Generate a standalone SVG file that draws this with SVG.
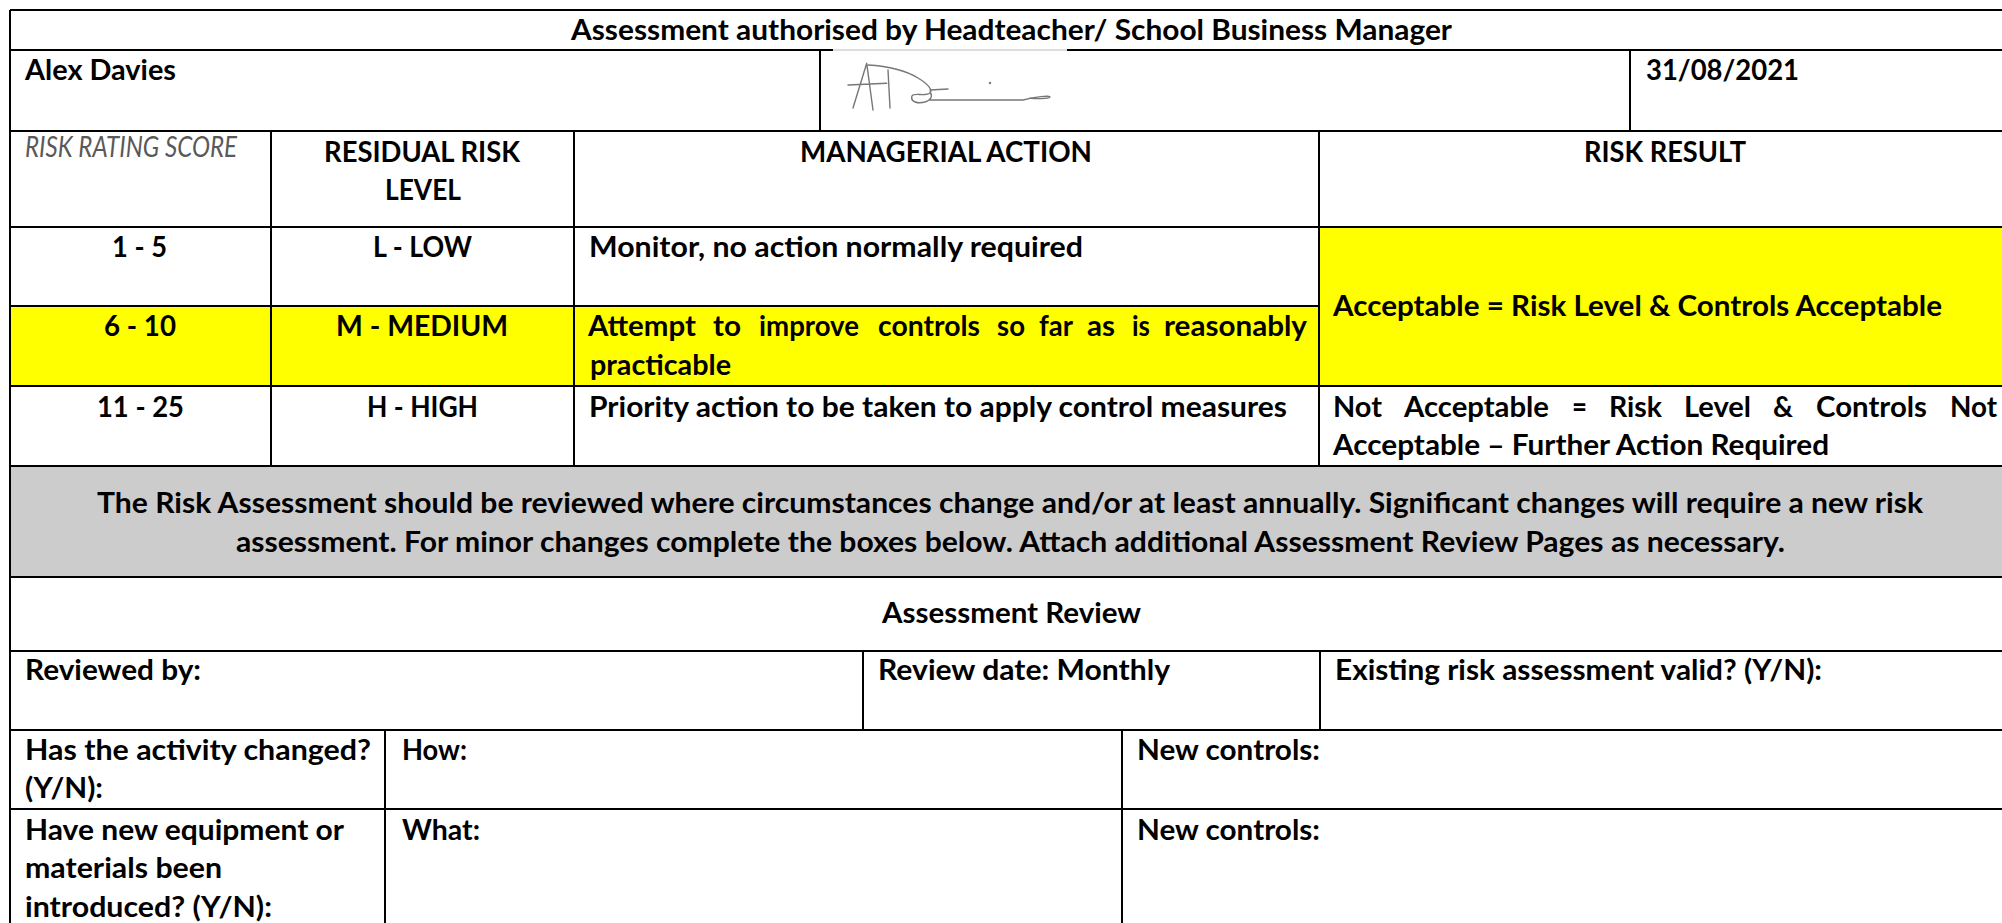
<svg xmlns="http://www.w3.org/2000/svg" width="2002" height="923" viewBox="0 0 2002 923">
<style>
.t{font-family:Lato,"Liberation Sans",sans-serif;font-weight:bold;font-size:28px;fill:#000}
.it{font-family:Lato,"Liberation Sans",sans-serif;font-style:italic;font-weight:normal;font-size:28px;fill:#595959}
.ln{stroke:#000;stroke-width:2;fill:none}
.sig{stroke:#777;stroke-width:1.4;fill:none;stroke-linecap:round;stroke-linejoin:round}
</style>
<rect x="0" y="0" width="2002" height="923" fill="#fff"/>
<g id="fills">
<rect x="10" y="306" width="1309" height="80" fill="#ffff00"/>
<rect x="1319" y="227" width="683" height="159" fill="#ffff00"/>
<rect x="10" y="466" width="1992" height="111" fill="#cccccc"/>
</g>
<g id="grid">
<path class="ln" d="M10 10H2002M10 10V923"/>
<path class="ln" d="M10 50H833M1067 50H2002"/>
<path d="M833 50H1067" stroke="#bbb" stroke-width="1"/>
<path class="ln" d="M10 131H2002M10 227H2002M10 306H1319M10 386H2002M10 466H2002M10 577H2002M10 651H2002M10 730H2002M10 809H2002"/>
<path class="ln" d="M820 50V131M1630 50V131"/>
<path class="ln" d="M271 131V466M574 131V466M1319 131V466"/>
<path class="ln" d="M863 651V730M1320 651V730"/>
<path class="ln" d="M385 730V923M1122 730V923"/>
</g>
<g id="title"><text class="t" x="571" y="40" textLength="881" lengthAdjust="spacingAndGlyphs">Assessment authorised by Headteacher/ School Business Manager</text></g>
<g id="name"><text class="t" x="25" y="80" textLength="151" lengthAdjust="spacingAndGlyphs">Alex Davies</text></g>
<g id="signature">
<path class="sig" d="M853 108L866.7 63.3L873 110M848 85L886.7 83.3M888 70L890 108"/>
<path class="sig" d="M868 65C885 66 905 70 918 78C928 84 933 90 930 93C925 97 914 92 912 96C910 102 918 104 925 102C931 100 933 96 930 92M930 90L948 89M930 100L1023 100C1035 97 1050 95 1050 97C1049 99 1035 99 1030 98"/>
<circle cx="990" cy="83" r="1.2" fill="#777"/>
</g>
<g id="date"><text class="t" x="1646" y="80" textLength="153" lengthAdjust="spacingAndGlyphs">31/08/2021</text></g>
<g id="hdr-score"><text class="it" x="25" y="157" textLength="212" lengthAdjust="spacingAndGlyphs">RISK RATING SCORE</text></g>
<g id="hdr-level"><text class="t" x="324" y="162" textLength="196" lengthAdjust="spacingAndGlyphs">RESIDUAL RISK</text><text class="t" x="385" y="200" textLength="76" lengthAdjust="spacingAndGlyphs">LEVEL</text></g>
<g id="hdr-action"><text class="t" x="800" y="162" textLength="292" lengthAdjust="spacingAndGlyphs">MANAGERIAL ACTION</text></g>
<g id="hdr-result"><text class="t" x="1584" y="162" textLength="162" lengthAdjust="spacingAndGlyphs">RISK RESULT</text></g>
<g id="row-low">
<text class="t" x="112" y="257" textLength="55" lengthAdjust="spacingAndGlyphs">1 - 5</text>
<text class="t" x="373" y="257" textLength="99" lengthAdjust="spacingAndGlyphs">L - LOW</text>
<text class="t" x="589" y="257" textLength="494" lengthAdjust="spacingAndGlyphs">Monitor, no action normally required</text>
</g>
<g id="result-acceptable"><text class="t" x="1333" y="316" textLength="609" lengthAdjust="spacingAndGlyphs">Acceptable = Risk Level &amp; Controls Acceptable</text></g>
<g id="row-medium">
<text class="t" x="104" y="336" textLength="72" lengthAdjust="spacingAndGlyphs">6 - 10</text>
<text class="t" x="336" y="336" textLength="172" lengthAdjust="spacingAndGlyphs">M - MEDIUM</text>
<text class="t" x="588" y="336" textLength="108" lengthAdjust="spacingAndGlyphs">Attempt</text>
<text class="t" x="713" y="336" textLength="28" lengthAdjust="spacingAndGlyphs">to</text>
<text class="t" x="759" y="336" textLength="100" lengthAdjust="spacingAndGlyphs">improve</text>
<text class="t" x="878" y="336" textLength="102" lengthAdjust="spacingAndGlyphs">controls</text>
<text class="t" x="997" y="336" textLength="28" lengthAdjust="spacingAndGlyphs">so</text>
<text class="t" x="1039" y="336" textLength="34" lengthAdjust="spacingAndGlyphs">far</text>
<text class="t" x="1087" y="336" textLength="28" lengthAdjust="spacingAndGlyphs">as</text>
<text class="t" x="1132" y="336" textLength="18" lengthAdjust="spacingAndGlyphs">is</text>
<text class="t" x="1164" y="336" textLength="143" lengthAdjust="spacingAndGlyphs">reasonably</text>
<text class="t" x="590" y="375" textLength="141" lengthAdjust="spacingAndGlyphs">practicable</text>
</g>
<g id="row-high">
<text class="t" x="97" y="417" textLength="87" lengthAdjust="spacingAndGlyphs">11 - 25</text>
<text class="t" x="367" y="417" textLength="111" lengthAdjust="spacingAndGlyphs">H - HIGH</text>
<text class="t" x="589" y="417" textLength="698" lengthAdjust="spacingAndGlyphs">Priority action to be taken to apply control measures</text>
<text class="t" x="1333" y="417" textLength="49" lengthAdjust="spacingAndGlyphs">Not</text>
<text class="t" x="1404" y="417" textLength="145" lengthAdjust="spacingAndGlyphs">Acceptable</text>
<text class="t" x="1572" y="417" textLength="15" lengthAdjust="spacingAndGlyphs">=</text>
<text class="t" x="1609" y="417" textLength="53" lengthAdjust="spacingAndGlyphs">Risk</text>
<text class="t" x="1684" y="417" textLength="67" lengthAdjust="spacingAndGlyphs">Level</text>
<text class="t" x="1773" y="417" textLength="20" lengthAdjust="spacingAndGlyphs">&amp;</text>
<text class="t" x="1816" y="417" textLength="111" lengthAdjust="spacingAndGlyphs">Controls</text>
<text class="t" x="1950" y="417" textLength="47" lengthAdjust="spacingAndGlyphs">Not</text>
<text class="t" x="1333" y="455" textLength="496" lengthAdjust="spacingAndGlyphs">Acceptable – Further Action Required</text>
</g>
<g id="note">
<text class="t" x="97" y="513" textLength="1826" lengthAdjust="spacingAndGlyphs">The Risk Assessment should be reviewed where circumstances change and/or at least annually. Significant changes will require a new risk</text>
<text class="t" x="236" y="552" textLength="1549" lengthAdjust="spacingAndGlyphs">assessment. For minor changes complete the boxes below. Attach additional Assessment Review Pages as necessary.</text>
</g>
<g id="review-title"><text class="t" x="882" y="623" textLength="259" lengthAdjust="spacingAndGlyphs">Assessment Review</text></g>
<g id="reviewed-by"><text class="t" x="25" y="680" textLength="176" lengthAdjust="spacingAndGlyphs">Reviewed by:</text></g>
<g id="review-date"><text class="t" x="878" y="680" textLength="292" lengthAdjust="spacingAndGlyphs">Review date: Monthly</text></g>
<g id="existing"><text class="t" x="1335" y="680" textLength="487" lengthAdjust="spacingAndGlyphs">Existing risk assessment valid? (Y/N):</text></g>
<g id="activity">
<text class="t" x="25" y="760" textLength="346" lengthAdjust="spacingAndGlyphs">Has the activity changed?</text>
<text class="t" x="25" y="798" textLength="78" lengthAdjust="spacingAndGlyphs">(Y/N):</text>
</g>
<g id="how"><text class="t" x="402" y="760" textLength="65" lengthAdjust="spacingAndGlyphs">How:</text></g>
<g id="controls-1"><text class="t" x="1137" y="760" textLength="183" lengthAdjust="spacingAndGlyphs">New controls:</text></g>
<g id="equipment">
<text class="t" x="25" y="840" textLength="319" lengthAdjust="spacingAndGlyphs">Have new equipment or</text>
<text class="t" x="25" y="878" textLength="197" lengthAdjust="spacingAndGlyphs">materials been</text>
<text class="t" x="25" y="917" textLength="247" lengthAdjust="spacingAndGlyphs">introduced? (Y/N):</text>
</g>
<g id="what"><text class="t" x="402" y="840" textLength="78" lengthAdjust="spacingAndGlyphs">What:</text></g>
<g id="controls-2"><text class="t" x="1137" y="840" textLength="183" lengthAdjust="spacingAndGlyphs">New controls:</text></g>
</svg>
